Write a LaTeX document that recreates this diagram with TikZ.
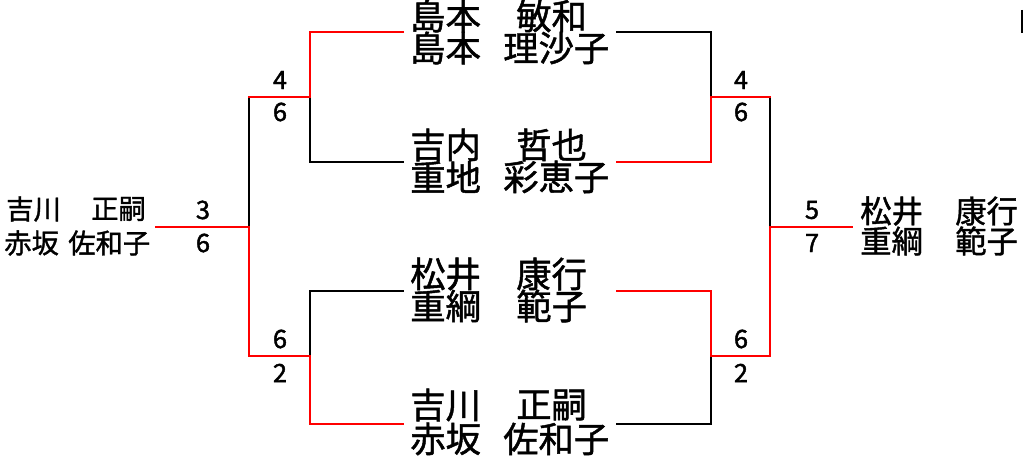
\documentclass[tikz,border=0pt]{standalone}
\usepackage{fontspec}
\newfontfamily\cjk{Noto Sans CJK JP}[FakeBold=1.3]
\newfontfamily\cjknum{Noto Sans CJK JP}[FakeBold=1.6]
\definecolor{winred}{HTML}{FF0000}
\tikzset{
  bk/.style={draw=black, line width=2pt, line cap=rect},
  rd/.style={draw=winred, line width=2pt, line cap=rect},
  bigname/.style={anchor=west, inner sep=0pt, font=\cjk\fontsize{26.5}{26.5}\selectfont},
  smallname/.style={anchor=west, inner sep=0pt, font=\cjk\fontsize{20.5}{20.5}\selectfont},
  midname/.style={anchor=west, inner sep=0pt, font=\cjk\fontsize{23.5}{23.5}\selectfont},
  score/.style={anchor=center, inner sep=0pt, font=\cjknum\fontsize{19}{19}\selectfont},
}
\begin{document}
\begin{tikzpicture}[x=0.75pt, y=-0.75pt]
\useasboundingbox (0,0) rectangle (1024,459);
% coordinates
\coordinate (L1a) at (403,32); \coordinate (L1b) at (403,162);
\coordinate (L1c) at (403,291); \coordinate (L1d) at (403,424);
\coordinate (Lj1) at (310,32); \coordinate (Lj2) at (310,162);
\coordinate (Lm1) at (310,97); \coordinate (Lk1) at (249,97);
\coordinate (Lj3) at (310,291); \coordinate (Lj4) at (310,424);
\coordinate (Lm2) at (310,356); \coordinate (Lk2) at (249,356);
\coordinate (Lf) at (249,227); \coordinate (Le) at (156,227);
\coordinate (R1a) at (617,32); \coordinate (R1b) at (617,162);
\coordinate (R1c) at (617,291); \coordinate (R1d) at (617,424);
\coordinate (Rj1) at (711,32); \coordinate (Rj2) at (711,162);
\coordinate (Rm1) at (711,97); \coordinate (Rk1) at (770,97);
\coordinate (Rj3) at (711,291); \coordinate (Rj4) at (711,424);
\coordinate (Rm2) at (711,356); \coordinate (Rk2) at (770,356);
\coordinate (Rf) at (770,227); \coordinate (Re) at (852,227);
\coordinate (Mt) at (1022,10); \coordinate (Mb) at (1022,33);
% black lines
\draw[bk] (Lf) -- (Lk1);
\draw[bk] (Lm1) -- (Lj2) -- (L1b);
\draw[bk] (Lm2) -- (Lj3) -- (L1c);
\draw[bk] (R1a) -- (Rj1) -- (Rm1);
\draw[bk] (Rk1) -- (Rf);
\draw[bk] (Rm2) -- (Rj4) -- (R1d);
\draw[black, line width=1.8pt] (Mt) -- (Mb);
% red lines
\draw[rd] (Le) -- (Lf) -- (Lk2) -- (Lm2) -- (Lj4) -- (L1d);
\draw[rd] (Lk1) -- (Lm1) -- (Lj1) -- (L1a);
\draw[rd] (R1b) -- (Rj2) -- (Rm1) -- (Rk1);
\draw[rd] (Re) -- (Rf) -- (Rk2) -- (Rm2) -- (Rj3) -- (R1c);
% center names
\node[bigname] (n1s1) at (410,16) {島本};
\node[bigname] (n1g1) at (516,16) {敏和};
\node[bigname] (n1s2) at (410,48) {島本};
\node[bigname] (n1g2) at (503,48) {理沙子};
\node[bigname] (n2s1) at (410,145) {吉内};
\node[bigname] (n2g1) at (516,145) {哲也};
\node[bigname] (n2s2) at (410,177) {重地};
\node[bigname] (n2g2) at (503,177) {彩恵子};
\node[bigname] (n3s1) at (410,274) {松井};
\node[bigname] (n3g1) at (516,274) {康行};
\node[bigname] (n3s2) at (410,306) {重綱};
\node[bigname] (n3g2) at (516,306) {範子};
\node[bigname] (n4s1) at (410,405) {吉川};
\node[bigname] (n4g1) at (516,405) {正嗣};
\node[bigname] (n4s2) at (410,439) {赤坂};
\node[bigname] (n4g2) at (503,439) {佐和子};
% left names
\node[smallname] (ls1) at (6,209) {吉川};
\node[smallname] (lg1) at (91,209) {正嗣};
\node[smallname] (ls2) at (4,243) {赤坂};
\node[smallname] (lg2) at (68,243) {佐和子};
% right names
\node[midname] (rs1) at (860,211) {松井};
\node[midname] (rg1) at (955,211) {康行};
\node[midname] (rs2) at (860,241) {重綱};
\node[midname] (rg2) at (955,241) {範子};
% scores
\node[score] (sL1a) at (280,80) {4};
\node[score] (sL1b) at (280,112) {6};
\node[score] (sL2a) at (280,339) {6};
\node[score] (sL2b) at (280,373) {2};
\node[score] (sLFa) at (203,210) {3};
\node[score] (sLFb) at (203,243) {6};
\node[score] (sR1a) at (741,80) {4};
\node[score] (sR1b) at (741,112) {6};
\node[score] (sR2a) at (741,339) {6};
\node[score] (sR2b) at (741,373) {2};
\node[score] (sRFa) at (812,210) {5};
\node[score] (sRFb) at (812,243) {7};
\end{tikzpicture}
\end{document}
